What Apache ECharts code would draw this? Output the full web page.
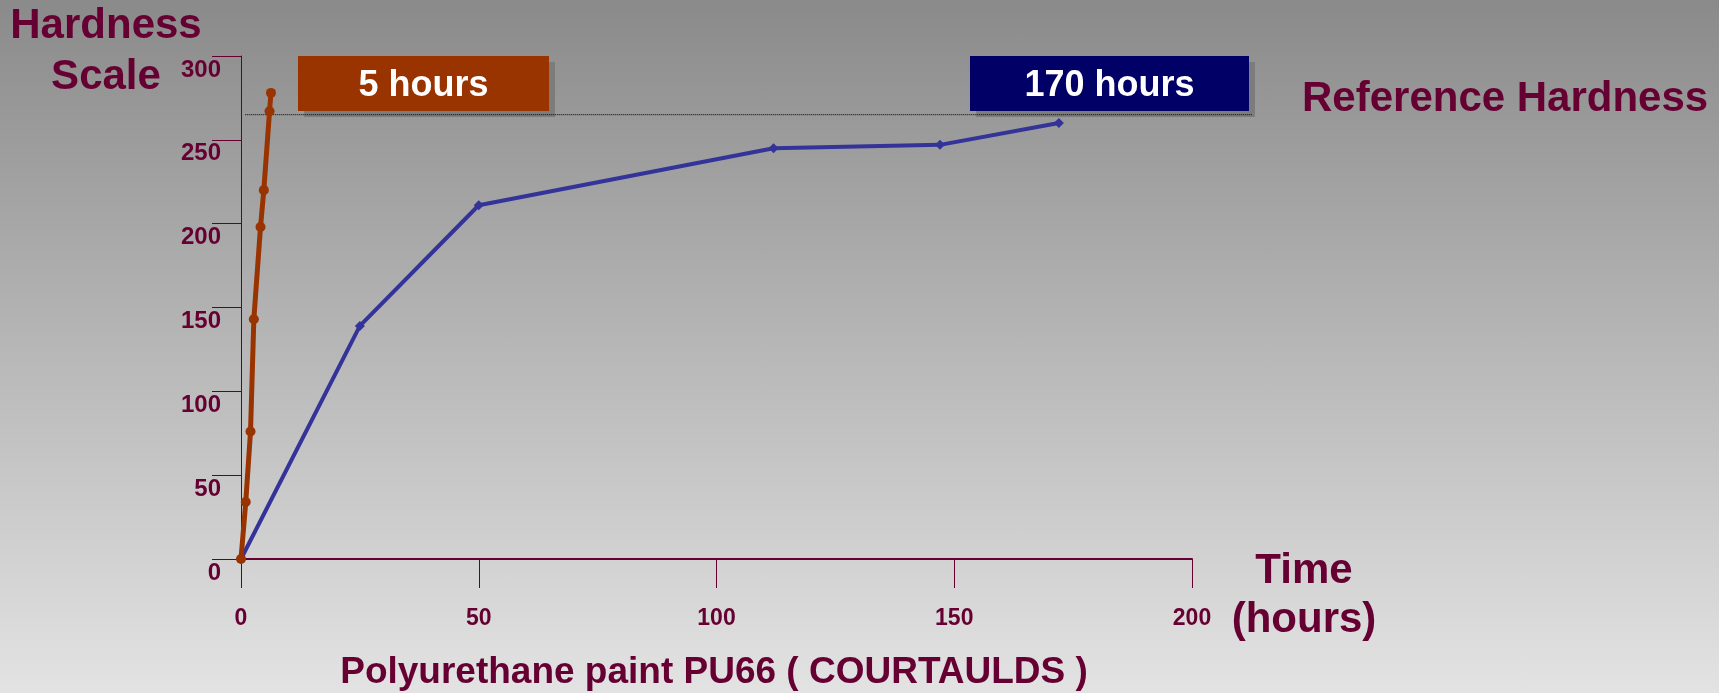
<!DOCTYPE html>
<html>
<head>
<meta charset="utf-8">
<script src="https://cdn.jsdelivr.net/npm/echarts@6/dist/echarts.min.js"></script>
<style>
  html, body { margin: 0; padding: 0; }
  #chart {
    width: 1719px;
    height: 693px;
    background: linear-gradient(to bottom, #8a8a8a 0%, #e3e3e3 100%);
  }
</style>
</head>
<body>
<div id="chart"></div>
<script>
// PU66 hardness curves
const fastHours = [0, 1, 2, 2.7, 4.1, 4.8, 6, 6.3];
const fastHardness = [0, 34, 76, 143, 198, 220, 267, 278];
const slowHours = [0, 25, 50, 112, 147, 172];
const slowHardness = [0, 139, 211, 245, 247, 260];

// reference hardness level and where the dotted line runs (hours)
const referenceHardness = 265;
const referenceSpan = [0.9, 212.6];

const boxLabels = ['5 hours', '170 hours'];
const titleText = 'Polyurethane paint PU66 ( COURTAULDS )';

const maroon = '#660033';
const font = '"Liberation Sans", Arial, sans-serif';

const chart = echarts.init(document.getElementById('chart'), null, { renderer: 'canvas' });

// pair x and y arrays into points
function pairs(xs, ys) {
  return xs.map((x, i) => [x, ys[i]]);
}

// coloured label box with a flat drop shadow
function labelBox(x, y, w, h, fill, text) {
  return {
    type: 'group',
    z: 0,
    children: [
      { type: 'rect', z: 0, shape: { x: x + 6, y: y + 6, width: w, height: h }, style: { fill: '#7c7c7c' } },
      { type: 'rect', z: 0, shape: { x: x, y: y, width: w, height: h }, style: { fill: fill } },
      {
        type: 'text',
        z: 0,
        x: x + w / 2,
        y: y + h / 2 + 3,
        style: {
          text: text,
          fill: '#ffffff',
          font: 'bold 36px ' + font,
          textAlign: 'center',
          textVerticalAlign: 'middle'
        }
      }
    ]
  };
}

function bigText(x, y, text, align) {
  return {
    type: 'text',
    x: x,
    y: y,
    style: {
      text: text,
      fill: maroon,
      font: 'bold 42px ' + font,
      textAlign: align || 'center',
      textVerticalAlign: 'middle'
    }
  };
}

const option = {
  animation: false,
  backgroundColor: 'transparent',
  grid: [
    // main plot
    { left: 241, right: 527, top: 56, bottom: 134 },
    // same scale, wider, only for the reference line that runs past 200 h
    { left: 241, right: 467, top: 56, bottom: 134 }
  ],
  xAxis: [
    {
      type: 'value',
      gridIndex: 0,
      min: 0,
      max: 200,
      interval: 50,
      splitLine: { show: false },
      axisLine: { lineStyle: { color: maroon, width: 2 } },
      axisTick: { length: 29, lineStyle: { color: maroon, width: 1 } },
      axisLabel: {
        margin: 48,
        color: maroon,
        fontSize: 23,
        fontWeight: 'bold',
        fontFamily: font
      }
    },
    {
      type: 'value',
      gridIndex: 1,
      min: 0,
      max: referenceSpan[1],
      show: false
    }
  ],
  yAxis: [
    {
      type: 'value',
      gridIndex: 0,
      min: 0,
      max: 300,
      interval: 50,
      splitLine: { show: false },
      axisLine: { show: true, lineStyle: { color: maroon, width: 1 } },
      axisTick: { show: true, length: 29, lineStyle: { color: maroon, width: 1 } },
      axisLabel: {
        margin: 20,
        color: maroon,
        fontSize: 24,
        fontWeight: 'bold',
        fontFamily: font,
        verticalAlign: 'top',
        padding: [2, 0, 0, 0]
      }
    },
    {
      type: 'value',
      gridIndex: 1,
      min: 0,
      max: 300,
      show: false
    }
  ],
  series: [
    {
      name: 'reference',
      type: 'line',
      xAxisIndex: 1,
      yAxisIndex: 1,
      data: pairs(referenceSpan, [referenceHardness, referenceHardness]),
      symbol: 'none',
      lineStyle: { color: '#000000', width: 1, type: [1, 1] },
      z: 5
    },
    {
      name: '170 hours',
      type: 'line',
      data: pairs(slowHours, slowHardness),
      symbol: 'diamond',
      symbolSize: 10,
      itemStyle: { color: '#333399' },
      lineStyle: { color: '#333399', width: 4 },
      z: 5
    },
    {
      name: '5 hours',
      type: 'line',
      data: pairs(fastHours, fastHardness),
      symbol: 'circle',
      symbolSize: 10,
      itemStyle: { color: '#993300' },
      lineStyle: { color: '#993300', width: 5 },
      z: 6
    }
  ],
  graphic: [
    bigText(106, 26, 'Hardness'),
    bigText(106, 77, 'Scale'),
    bigText(1302, 99, 'Reference Hardness', 'left'),
    bigText(1304, 571, 'Time'),
    bigText(1304, 620, '(hours)'),
    labelBox(298, 56, 251, 55, '#993300', boxLabels[0]),
    labelBox(970, 56, 279, 55, '#000066', boxLabels[1]),
    {
      type: 'text',
      x: 714,
      y: 673,
      style: {
        text: titleText,
        fill: maroon,
        font: 'bold 37px ' + font,
        textAlign: 'center',
        textVerticalAlign: 'middle'
      }
    }
  ]
};

chart.setOption(option);
</script>
</body>
</html>
